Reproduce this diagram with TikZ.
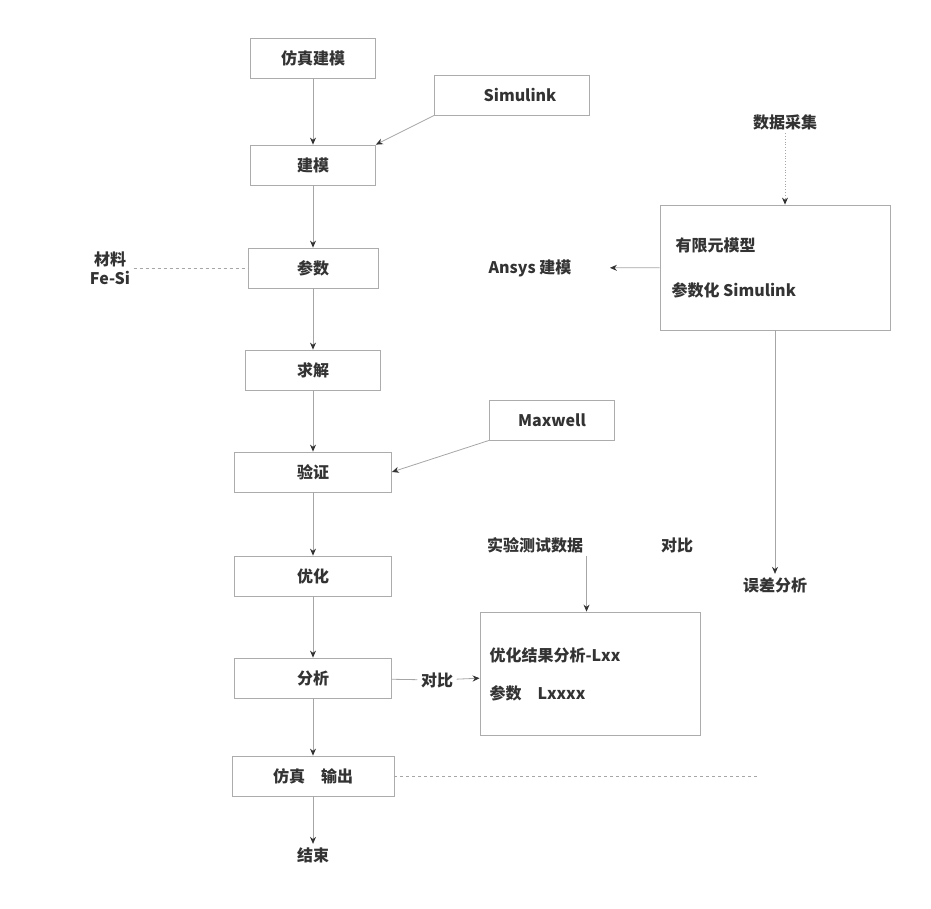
\documentclass[tikz,border=0pt]{standalone}
\usepackage{fontspec}
\setmainfont{Liberation Sans}
\newfontfamily\cjk{Noto Sans CJK SC}
\usetikzlibrary{fit}
\usetikzlibrary{arrows.meta}
\tikzset{cell/.style={rectangle, draw=gray!65, thick, minimum height=40pt,
   font=\cjk\bfseries\fontsize{16}{19}\selectfont, text=black!80}}
\tikzset{txt/.style={font=\cjk\bfseries\fontsize{16}{19}\selectfont, text=black!80, align=center}}
\tikzset{link/.style={draw=gray!70, thick, -{Stealth[length=7pt,width=6pt,color=black!80]}}}
\tikzset{grp/.style={rectangle, draw=gray!65, thick, inner sep=0pt}}

\begin{document}
\begin{tikzpicture}[x=1pt, y=-1pt]

    \useasboundingbox (0,0) rectangle (931,909);

    % main column
    \node[cell, minimum width=125pt] (s1) at (313,58)  {仿真建模};
    \node[cell, minimum width=125pt] (s2) at (313,165) {建模};
    \node[cell, minimum width=130pt] (s3) at (313,268) {参数};
    \node[cell, minimum width=135pt] (s4) at (313,370) {求解};
    \node[cell, minimum width=157pt] (s5) at (313,472) {验证};
    \node[cell, minimum width=157pt] (s6) at (313,576) {优化};
    \node[cell, minimum width=157pt] (s7) at (313,678) {分析};
    \node[cell, minimum width=162pt] (s8) at (313,776) {仿真\quad 输出};
    \node[txt] (s9) at (313,855) {结束};

    \draw[link] (s1) -- (s2);
    \draw[link] (s2) -- (s3);
    \draw[link] (s3) -- (s4);
    \draw[link] (s4) -- (s5);
    \draw[link] (s5) -- (s6);
    \draw[link] (s6) -- (s7);
    \draw[link] (s7) -- (s8);
    \draw[link] (s8) -- (s9);

    % left side
    \node[txt] (mat) at (110,268) {材料\\Fe-Si};
    \node[txt] (ansys) at (530,268) {Ansys 建模};
    \draw[gray!70, thick, dashed] (mat) -- (s3);

    % top right
    \node[cell, minimum width=155pt] (sim) at (512,95) {\quad Simulink};
    \draw[link] (sim.south west) -- (s2.north east);

    \node[txt] (data) at (785,122) {数据采集};
    \coordinate (g1tl) at (660,205);
    \coordinate (g1br) at (890,330);
    \node[grp, fit=(g1tl)(g1br)] (grp1) {};
    \node[txt, anchor=west] (g1a) at (672,245) {有限元模型};
    \node[txt, anchor=west] (g1b) at (668,290) {参数化\ Simulink};
    \draw[link, dotted] (data) -- (data |- grp1.north);
    \draw[link, shorten >=35pt] (grp1) -- (ansys);

    \node[cell, minimum width=125pt] (maxw) at (552,420) {Maxwell};
    \draw[link] (maxw.south west) -- (s5.east);

    % lower right
    \node[txt] (test) at (535,545) {实验测试数据};
    \node[txt] (cmp) at (677,545) {对比};
    \node[txt] (err) at (775,585) {误差分析};
    \draw[link] (grp1) -- (err);

    \coordinate (g2tl) at (480,612);
    \coordinate (g2br) at (700,735);
    \node[grp, fit=(g2tl)(g2br)] (grp2) {};
    \node[txt, anchor=west] (g2a) at (486,655) {优化结果分析-Lxx};
    \node[txt, anchor=west] (g2b) at (486,693) {参数\quad Lxxxx};
    \draw[link] (test.south east) -- (test.south east |- grp2.north);

    \node[txt] (cmp2) at (437,680) {对比};
    \draw[gray!70, thick] (s7) -- (cmp2);
    \draw[link] (cmp2) -- (grp2);

    \coordinate (dend) at (760,776);
    \draw[gray!70, thick, dashed] (s8) -- (dend);

\end{tikzpicture}
\end{document}
